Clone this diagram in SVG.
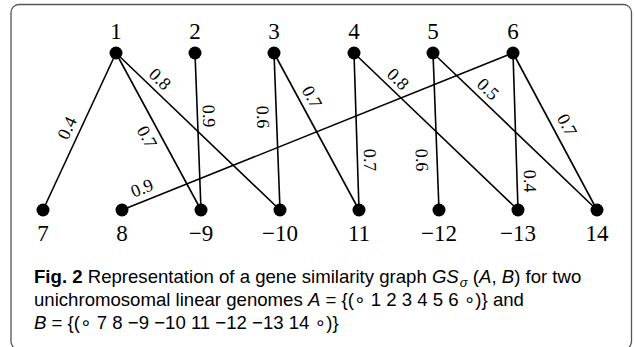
<svg xmlns="http://www.w3.org/2000/svg" width="635" height="347" viewBox="0 0 635 347">
<style>
.edge{stroke:#000;stroke-width:1.6;fill:none}
.node{fill:#000}
.nl{font-family:"Liberation Serif","DejaVu Serif",serif;font-size:23px;text-anchor:middle;fill:#000}
.el{font-family:"Liberation Serif","DejaVu Serif",serif;font-size:18px;text-anchor:middle;dominant-baseline:central;fill:#000}
.cap{font-family:"Liberation Sans","DejaVu Sans",sans-serif;font-size:18.6px;fill:#000}
.it{font-style:italic}
</style>
<rect x="11" y="4.5" width="620.5" height="345" rx="8" fill="#fff" stroke="#555" stroke-width="1.3"/>
<g id="connectors">
<line class="edge" x1="116" y1="53" x2="43" y2="210"/>
<line class="edge" x1="116" y1="53" x2="201" y2="210"/>
<line class="edge" x1="116" y1="53" x2="280" y2="210"/>
<line class="edge" x1="195" y1="53" x2="201" y2="210"/>
<line class="edge" x1="274" y1="53" x2="280" y2="210"/>
<line class="edge" x1="274" y1="53" x2="359" y2="210"/>
<line class="edge" x1="354" y1="53" x2="359" y2="210"/>
<line class="edge" x1="354" y1="53" x2="518" y2="210"/>
<line class="edge" x1="433" y1="53" x2="439" y2="210"/>
<line class="edge" x1="433" y1="53" x2="597" y2="210"/>
<line class="edge" x1="513" y1="53" x2="518" y2="210"/>
<line class="edge" x1="513" y1="53" x2="597" y2="210"/>
<line class="edge" x1="513" y1="53" x2="122" y2="210"/>
<text class="el" x="67" y="128" transform="rotate(-65.1 67 128)">0.4</text>
<text class="el" x="147" y="137" transform="rotate(61.6 147 137)">0.7</text>
<text class="el" x="160" y="79" transform="rotate(43.7 160 79)">0.8</text>
<text class="el" x="209" y="116" transform="rotate(87.8 209 116)">0.9</text>
<text class="el" x="263" y="117" transform="rotate(87.8 263 117)">0.6</text>
<text class="el" x="312" y="97" transform="rotate(61.6 312 97)">0.7</text>
<text class="el" x="370" y="160" transform="rotate(88.2 370 160)">0.7</text>
<text class="el" x="398" y="79" transform="rotate(43.7 398 79)">0.8</text>
<text class="el" x="422" y="160" transform="rotate(87.8 422 160)">0.6</text>
<text class="el" x="488" y="89" transform="rotate(43.7 488 89)">0.5</text>
<text class="el" x="530" y="181" transform="rotate(88.2 530 181)">0.4</text>
<text class="el" x="567" y="125" transform="rotate(61.9 567 125)">0.7</text>
<text class="el" x="142" y="188" transform="rotate(-21.9 142 188)">0.9</text>
</g>
<g id="n1"><circle class="node" cx="116" cy="53" r="6.5"/><text class="nl" x="116" y="39">1</text></g>
<g id="n2"><circle class="node" cx="195" cy="53" r="6.5"/><text class="nl" x="195" y="39">2</text></g>
<g id="n3"><circle class="node" cx="274" cy="53" r="6.5"/><text class="nl" x="274" y="39">3</text></g>
<g id="n4"><circle class="node" cx="354" cy="53" r="6.5"/><text class="nl" x="354" y="39">4</text></g>
<g id="n5"><circle class="node" cx="433" cy="53" r="6.5"/><text class="nl" x="433" y="39">5</text></g>
<g id="n6"><circle class="node" cx="513" cy="53" r="6.5"/><text class="nl" x="513" y="39">6</text></g>
<g id="n7"><circle class="node" cx="43" cy="210" r="6.5"/><text class="nl" x="43" y="241">7</text></g>
<g id="n8"><circle class="node" cx="122" cy="210" r="6.5"/><text class="nl" x="122" y="241">8</text></g>
<g id="n-9"><circle class="node" cx="201" cy="210" r="6.5"/><text class="nl" x="201" y="241">−9</text></g>
<g id="n-10"><circle class="node" cx="280" cy="210" r="6.5"/><text class="nl" x="280" y="241">−10</text></g>
<g id="n11"><circle class="node" cx="359" cy="210" r="6.5"/><text class="nl" x="359" y="241">11</text></g>
<g id="n-12"><circle class="node" cx="439" cy="210" r="6.5"/><text class="nl" x="439" y="241">−12</text></g>
<g id="n-13"><circle class="node" cx="518" cy="210" r="6.5"/><text class="nl" x="518" y="241">−13</text></g>
<g id="n14"><circle class="node" cx="597" cy="210" r="6.5"/><text class="nl" x="597" y="241">14</text></g>
<g id="caption">
<text class="cap" x="34" y="283"><tspan font-weight="bold">Fig. 2</tspan> Representation of a gene similarity graph <tspan class="it">GS</tspan><tspan class="it" font-size="13" dx="1" dy="4">σ</tspan><tspan dy="-4"> (</tspan><tspan class="it">A</tspan>, <tspan class="it">B</tspan>) for two</text>
<text class="cap" x="34" y="306">unichromosomal linear genomes <tspan class="it">A</tspan> = {(∘ 1 2 3 4 5 6 ∘)} and</text>
<text class="cap" x="34" y="329"><tspan class="it">B</tspan> = {(∘ 7 8 −9 −10 11 −12 −13 14 ∘)}</text>
</g>
</svg>
